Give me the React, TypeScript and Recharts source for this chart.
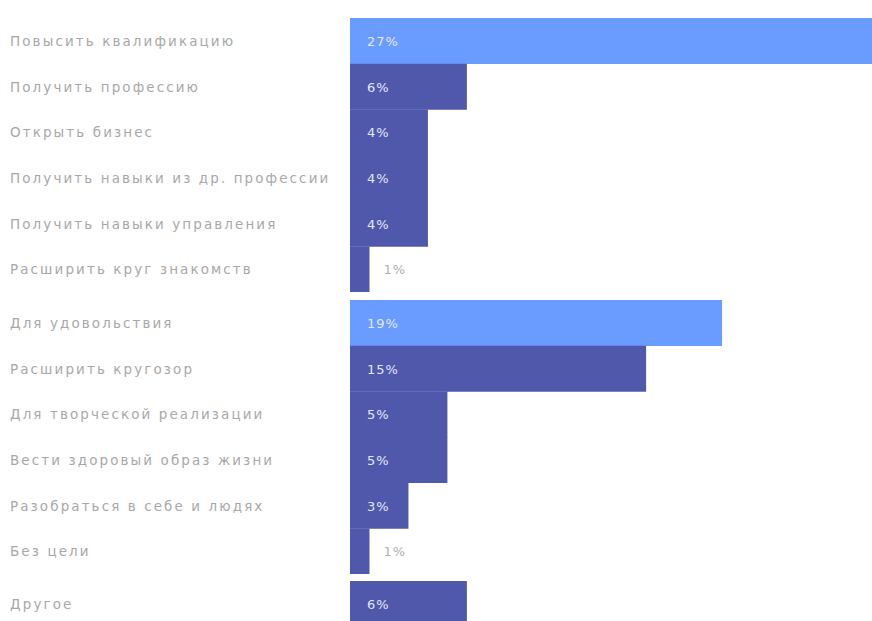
import React from 'react';
import { BarChart, Bar, XAxis, YAxis, Cell, LabelList } from 'recharts';

// три блока целей, как в исходной картинке
const careerGoals = [
  'Повысить квалификацию',
  'Получить профессию',
  'Открыть бизнес',
  'Получить навыки из др. профессии',
  'Получить навыки управления',
  'Расширить круг знакомств',
];
const careerValues = [27, 6, 4, 4, 4, 1];

const personalGoals = [
  'Для удовольствия',
  'Расширить кругозор',
  'Для творческой реализации',
  'Вести здоровый образ жизни',
  'Разобраться в себе и людях',
  'Без цели',
];
const personalValues = [19.1, 15.2, 5, 5, 3, 1];

const otherGoals = ['Другое'];
const otherValues = [6];

const highlighted = ['Повысить квалификацию', 'Для удовольствия'];

const LIGHT = '#6a9bff';
const DARK = '#4f58aa';
const ROW_H = 45.7;
const X_MAX = 27;

const toRows = (names: string[], values: number[]) =>
  names.map((name, i) => ({ name, value: values[i] }));

const LabelTick = ({ y, payload }: any) => (
  <text
    x={10}
    y={y}
    dy={5}
    textAnchor="start"
    fill="#a8a8a8"
    fontSize={13.5}
    letterSpacing={2.1}
    fontFamily="DejaVu Sans, sans-serif"
  >
    {payload.value}
  </text>
);

const renderValue = (props: any) => {
  const { x, y, width, height, value } = props;
  const small = value < 2;
  return (
    <text
      x={small ? x + width + 14 : x + 17}
      y={y + height / 2}
      dy={5}
      textAnchor="start"
      fill={small ? '#b0b0b0' : '#e3e9ff'}
      fontSize={13}
      letterSpacing={1}
      fontFamily="DejaVu Sans, sans-serif"
    >
      {`${Math.round(value)}%`}
    </text>
  );
};

function Group({ rows, top }: { rows: { name: string; value: number }[]; top: number }) {
  return (
    <div style={{ position: 'absolute', left: 0, top }}>
      <BarChart
        width={876}
        height={ROW_H * rows.length}
        data={rows}
        layout="vertical"
        margin={{ top: 0, right: 0, bottom: 0, left: 0 }}
        barCategoryGap={0}
      >
        <XAxis type="number" domain={[0, X_MAX]} hide />
        <YAxis
          type="category"
          dataKey="name"
          width={350}
          axisLine={false}
          tickLine={false}
          tick={<LabelTick />}
          interval={0}
        />
        <Bar dataKey="value" isAnimationActive={false}>
          {rows.map((r) => (
            <Cell key={r.name} fill={highlighted.includes(r.name) ? LIGHT : DARK} />
          ))}
          <LabelList dataKey="value" content={renderValue} />
        </Bar>
      </BarChart>
    </div>
  );
}

export default function App() {
  return (
    <div
      style={{
        position: 'absolute',
        left: 0,
        top: 0,
        width: 872,
        height: 621,
        overflow: 'hidden',
        background: '#fff',
      }}
    >
      <Group rows={toRows(careerGoals, careerValues)} top={18} />
      <Group rows={toRows(personalGoals, personalValues)} top={300} />
      <Group rows={toRows(otherGoals, otherValues)} top={581} />
    </div>
  );
}
